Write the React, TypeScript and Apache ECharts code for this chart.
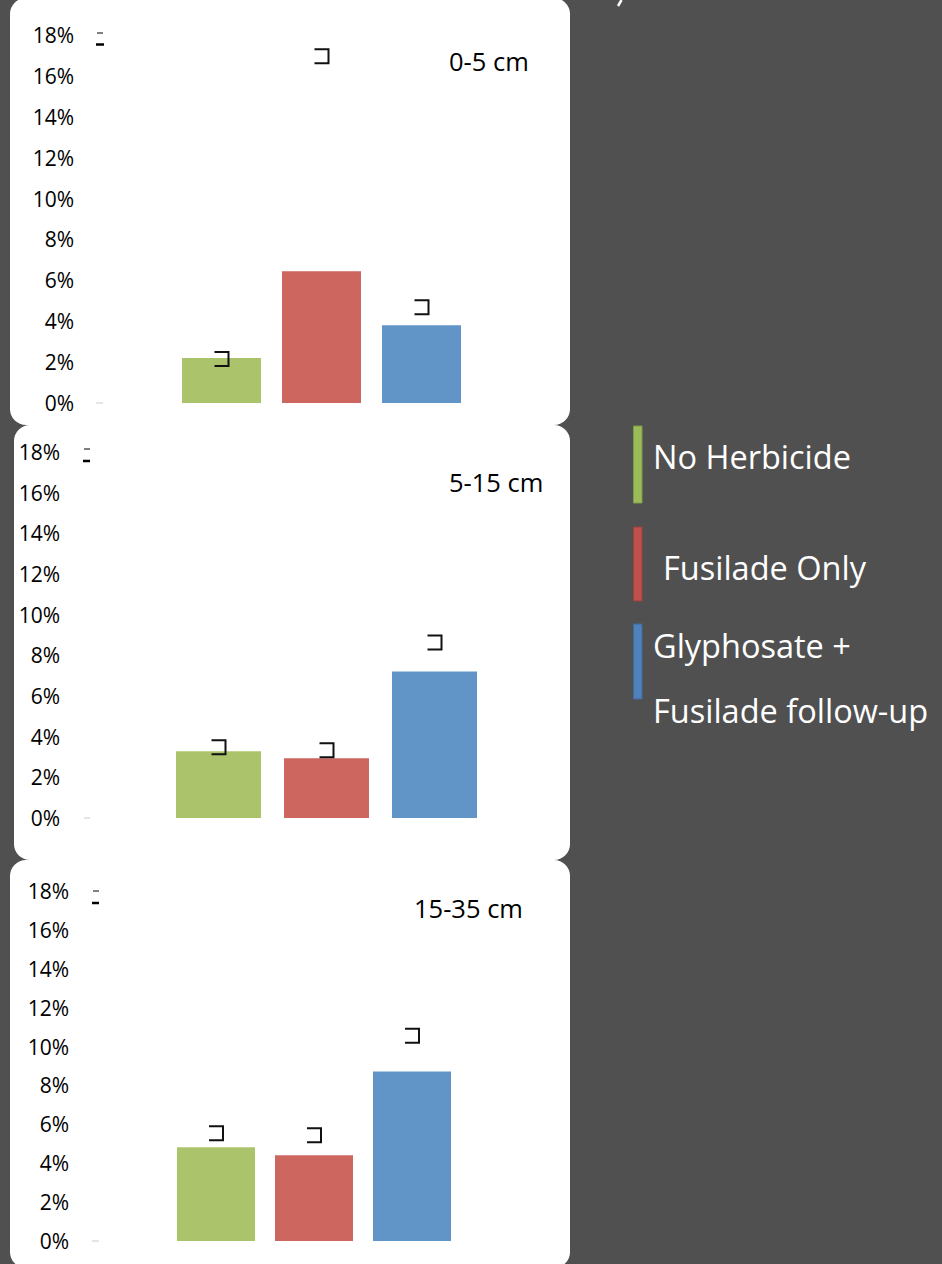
import React, { useEffect, useRef } from "react";
import * as echarts from "echarts";

const treatments = ["No Herbicide", "Fusilade Only", "Glyphosate + Fusilade follow-up"];
const legendLines = ["No Herbicide", "Fusilade Only", "Glyphosate +", "Fusilade follow-up"];
const depths = ["0-5 cm", "5-15 cm", "15-35 cm"];

const values0to5 = [2.2, 6.45, 3.8];
const values5to15 = [3.28, 2.94, 7.2];
const values15to35 = [4.82, 4.41, 8.72];

const errTop0to5 = [2.49, 17.3, 5.02];
const errTop5to15 = [3.82, 3.68, 8.97];
const errTop15to35 = [5.9, 5.8, 10.92];

const yMin = 0;
const yMax = 18;
const yStep = 2;

const barColors = ["#ABC46B", "#CD665F", "#6195C7"];
const legendColors = ["#9BBB59", "#C0504D", "#4F81BD"];
const legendBorders = ["#7F9A48", "#9E413E", "#41699B"];

const FONT = "'Open Sans', 'Noto Sans', sans-serif";

const panels = [
  { values: values0to5, errs: errTop0to5, left: 171.5, width: 300, top: 35, height: 368, barWidth: 79, margin: 97.5, title: { x: 449, y: 61 } },
  { values: values5to15, errs: errTop5to15, left: 164.5, width: 324, top: 452, height: 366, barWidth: 85, margin: 104.5, title: { x: 449, y: 482 } },
  { values: values15to35, errs: errTop15to35, left: 167, width: 294, top: 891, height: 350, barWidth: 78, margin: 98, title: { x: 414, y: 908 } },
];

export default function App() {
  const ref = useRef<HTMLDivElement>(null);

  useEffect(() => {
    document.body.style.margin = "0";
    if (!ref.current) return;
    const chart = echarts.init(ref.current, undefined, { renderer: "svg" });

    const grids = panels.map((p) => ({ left: p.left, top: p.top, width: p.width, height: p.height }));
    const xAxes = panels.map((_, i) => ({
      type: "category",
      gridIndex: i,
      data: treatments,
      show: false,
    }));
    const yAxes = panels.map((p, i) => ({
      type: "value",
      gridIndex: i,
      min: yMin,
      max: yMax,
      interval: yStep,
      axisLine: { show: false },
      axisTick: { show: false },
      splitLine: { show: false },
      axisLabel: {
        formatter: "{value}%",
        color: "#000",
        fontSize: 21,
        fontFamily: FONT,
        margin: p.margin,
        padding: [4, 0, 0, 0],
      },
    }));

    const series: any[] = [];
    panels.forEach((p, i) => {
      series.push({
        type: "bar",
        name: depths[i],
        xAxisIndex: i,
        yAxisIndex: i,
        barWidth: p.barWidth,
        data: p.values.map((v, k) => ({ value: v, itemStyle: { color: barColors[k] } })),
      });
      series.push({
        type: "custom",
        name: depths[i] + " error",
        xAxisIndex: i,
        yAxisIndex: i,
        encode: { x: 0, y: 1 },
        data: p.errs.map((v, k) => [k, v]),
        renderItem: (params: any, api: any) => {
          const pt = api.coord([api.value(0), api.value(1)]);
          const x = pt[0];
          const y = pt[1];
          return {
            type: "polyline",
            shape: {
              points: [
                [x - 7, y],
                [x + 7, y],
                [x + 7, y + 14],
                [x - 7, y + 14],
              ],
            },
            style: { stroke: "#111", lineWidth: 2, fill: null },
          };
        },
        z: 5,
      });
    });

    const graphics: any[] = [
      { type: "rect", shape: { x: 10, y: -2, width: 560, height: 427, r: 16 }, style: { fill: "#fff" }, z: 0 },
      { type: "rect", shape: { x: 14, y: 425, width: 556, height: 435, r: 16 }, style: { fill: "#fff" }, z: 0 },
      { type: "rect", shape: { x: 10, y: 860, width: 560, height: 408, r: 16 }, style: { fill: "#fff" }, z: 0 },
      // fragment of a title cut off by the top edge
      { type: "line", shape: { x1: 621.5, y1: 0, x2: 618, y2: 6 }, style: { stroke: "#fff", lineWidth: 2.5 }, z: 1 },
    ];

    panels.forEach((p, i) => {
      graphics.push({
        type: "text",
        x: p.title.x,
        y: p.title.y,
        style: { text: depths[i], fill: "#000", fontSize: 25.5, fontFamily: FONT, textVerticalAlign: "middle" },
        z: 10,
      });
    });

    // small tick fragments near the axis
    const dashes = [
      { x1: 97, x2: 103, y: 33, w: 1, c: "#000" },
      { x1: 96, x2: 104, y: 44.5, w: 2.5, c: "#000" },
      { x1: 96, x2: 103, y: 403, w: 1.5, c: "#ddd" },
      { x1: 84, x2: 90, y: 449, w: 1, c: "#000" },
      { x1: 83, x2: 90, y: 461, w: 2.5, c: "#000" },
      { x1: 84, x2: 90, y: 818, w: 1.5, c: "#ddd" },
      { x1: 93, x2: 99, y: 891, w: 1, c: "#000" },
      { x1: 92, x2: 99, y: 903, w: 2.5, c: "#000" },
      { x1: 92, x2: 99, y: 1241, w: 1.5, c: "#ddd" },
    ];
    dashes.forEach((d) => {
      graphics.push({
        type: "line",
        shape: { x1: d.x1, y1: d.y, x2: d.x2, y2: d.y },
        style: { stroke: d.c, lineWidth: d.w },
        z: 10,
      });
    });

    // legend
    const legendBars = [
      { y: 426, h: 77 },
      { y: 527, h: 74 },
      { y: 624, h: 75 },
    ];
    legendBars.forEach((b, i) => {
      graphics.push({
        type: "rect",
        shape: { x: 633.5, y: b.y, width: 8.5, height: b.h },
        style: { fill: legendColors[i], stroke: legendBorders[i], lineWidth: 1 },
        z: 10,
      });
    });
    const legendTextPos = [
      { x: 653, y: 456 },
      { x: 663, y: 567 },
      { x: 653, y: 645 },
      { x: 653, y: 710 },
    ];
    legendLines.forEach((t, i) => {
      graphics.push({
        type: "text",
        x: legendTextPos[i].x,
        y: legendTextPos[i].y,
        style: { text: t, fill: "#fff", fontSize: 32.5, fontFamily: FONT, textVerticalAlign: "middle" },
        z: 10,
      });
    });

    chart.setOption({
      animation: false,
      backgroundColor: "#505050",
      grid: grids,
      xAxis: xAxes,
      yAxis: yAxes,
      series,
      graphic: { elements: graphics },
    });

    return () => chart.dispose();
  }, []);

  return <div ref={ref} style={{ position: "absolute", left: 0, top: 0, width: 942, height: 1264 }} />;
}
